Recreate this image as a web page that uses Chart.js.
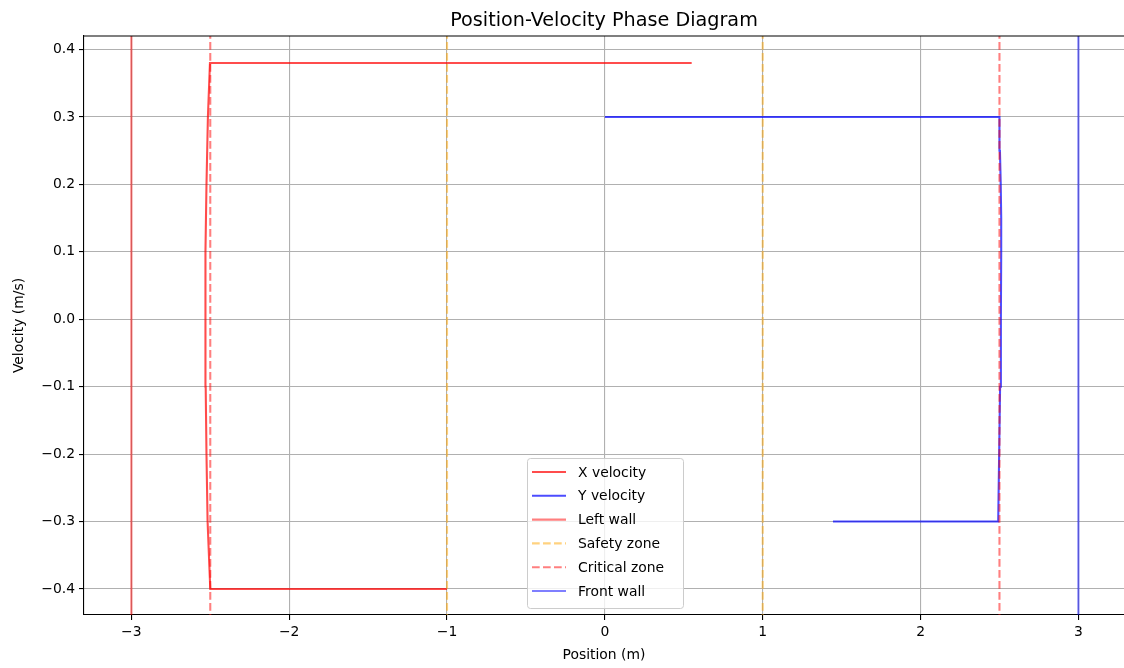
<!DOCTYPE html>
<html>
<head>
<meta charset="utf-8">
<script src="https://cdn.jsdelivr.net/npm/chart.js@4/dist/chart.umd.min.js"></script>
<style>
  html, body { margin: 0; padding: 0; background: #fff; }
  #wrap { width: 1124px; height: 668px; }
</style>
</head>
<body>
<div id="wrap"><canvas id="phase"></canvas></div>
<script>
// trajectory: [position, velocity]
const xVelPos = [-1.0, -2.5, -2.517, -2.524, -2.529, -2.532, -2.529, -2.524, -2.515, -2.502, 0.55]
const xVelVel = [-0.4, -0.4, -0.3, -0.2, -0.1, 0.0, 0.1, 0.2, 0.3, 0.38, 0.38]
const yVelPos = [1.445, 2.492, 2.498, 2.504, 2.509, 2.511, 2.511, 2.508, 2.503, 2.5, 0.0]
const yVelVel = [-0.3, -0.3, -0.2, -0.1, 0.0, 0.1, 0.15, 0.2, 0.25, 0.3, 0.3]

const leftWall = [-3]
const safetyZone = [-1, 1]
const criticalZone = [-2.5, 2.5]
const frontWall = [3]

const xTicks = [-3, -2, -1, 0, 1, 2, 3]
const yTicks = [-0.4, -0.3, -0.2, -0.1, 0.0, 0.1, 0.2, 0.3, 0.4]

const pairs = (xs, ys) => xs.map((x, i) => ({ x: x, y: ys[i] }))
// vertical lines spanning the whole axis (like axvline), separated by gaps
const vlines = xs => {
  const pts = []
  xs.forEach((x, i) => {
    if (i > 0) pts.push({ x: x, y: null })
    pts.push({ x: x, y: -5 }, { x: x, y: 5 })
  })
  return pts
}

const font = 'DejaVu Sans'
const minus = s => String(s).replace('-', '\u2212')
const dash = [7.7, 3.3]

// matplotlib-style legend inside the axes
const legendBox = {
  id: 'legendBox',
  afterDraw(chart) {
    const ctx = chart.ctx
    const x0 = 527, y0 = 458, w = 156, h = 150
    ctx.save()
    ctx.beginPath()
    ctx.roundRect(x0 + 0.5, y0 + 0.5, w, h, 3)
    ctx.fillStyle = 'rgba(255,255,255,0.8)'
    ctx.fill()
    ctx.strokeStyle = '#cccccc'
    ctx.lineWidth = 1
    ctx.stroke()
    ctx.font = '13.9px "' + font + '"'
    ctx.textBaseline = 'middle'
    chart.data.datasets.forEach((ds, i) => {
      const y = 472 + i * 23.8
      ctx.beginPath()
      ctx.setLineDash(ds.borderDash || [])
      ctx.strokeStyle = ds.borderColor
      ctx.lineWidth = ds.borderWidth
      ctx.moveTo(532, y)
      ctx.lineTo(566, y)
      ctx.stroke()
      ctx.setLineDash([])
      ctx.fillStyle = '#000'
      ctx.fillText(ds.label, 578, y + 1)
    })
    ctx.restore()
  }
}

// top spine (the right one is cut off by the picture edge)
const frame = {
  id: 'frame',
  afterDatasetsDraw(chart) {
    const a = chart.chartArea, ctx = chart.ctx
    ctx.save()
    ctx.strokeStyle = '#000'
    ctx.lineWidth = 1.1
    ctx.beginPath()
    ctx.moveTo(a.left, a.top)
    ctx.lineTo(a.right, a.top)
    ctx.stroke()
    ctx.restore()
  }
}

const line = (label, data, color, dashed) => ({
  label: label,
  data: data,
  showLine: true,
  borderColor: color,
  backgroundColor: color,
  borderWidth: 2.08,
  borderDash: dashed ? dash : undefined,
  pointRadius: 0,
  spanGaps: false,
  tension: 0
})

const datasets = [
  line('X velocity', pairs(xVelPos, xVelVel), 'rgba(255,0,0,0.7)'),
  line('Y velocity', pairs(yVelPos, yVelVel), 'rgba(0,0,255,0.7)'),
  line('Left wall', vlines(leftWall), 'rgba(255,0,0,0.5)'),
  line('Safety zone', vlines(safetyZone), 'rgba(255,165,0,0.5)', true),
  line('Critical zone', vlines(criticalZone), 'rgba(255,0,0,0.5)', true),
  line('Front wall', vlines(frontWall), 'rgba(0,0,255,0.5)')
]
datasets.forEach((ds, i) => { ds.order = datasets.length - i })

const ctx = document.getElementById('phase')
window.myPhase = new Chart(ctx, {
  type: 'scatter',
  data: { datasets: datasets },
  plugins: [frame, legendBox],
  options: {
    responsive: true,
    maintainAspectRatio: false,
    animation: false,
    layout: { padding: { left: 0, right: 0, top: 0, bottom: 0 } },
    plugins: {
      legend: { display: false },
      tooltip: { enabled: false },
      title: {
        display: true,
        text: 'Position-Velocity Phase Diagram',
        fullSize: false,
        color: '#000',
        font: { family: font, size: 19.2, weight: 'normal' },
        padding: { top: 9, bottom: 4 }
      }
    },
    scales: {
      x: {
        type: 'linear',
        min: -3.3,
        max: 3.289,
        afterBuildTicks: s => { s.ticks = xTicks.map(v => ({ value: v })) },
        afterFit: s => { s.height = 53 },
        ticks: {
          color: '#000',
          font: { family: font, size: 13.9 },
          padding: 4,
          maxRotation: 0,
          autoSkip: false,
          callback: v => minus(v)
        },
        grid: { color: '#b0b0b0', lineWidth: 1.1, tickColor: '#000', tickLength: 5 },
        border: { color: '#000', width: 1.1 },
        title: {
          display: true,
          text: 'Position (m)',
          color: '#000',
          font: { family: font, size: 13.9 },
          padding: { top: 0, bottom: 4 }
        }
      },
      y: {
        type: 'linear',
        min: -0.4386,
        max: 0.42,
        afterBuildTicks: s => { s.ticks = yTicks.map(v => ({ value: v })) },
        afterFit: s => { s.width = 84 },
        ticks: {
          color: '#000',
          font: { family: font, size: 13.9 },
          padding: 4,
          autoSkip: false,
          callback: v => minus(v.toFixed(1))
        },
        grid: { color: '#b0b0b0', lineWidth: 1.1, tickColor: '#000', tickLength: 5 },
        border: { color: '#000', width: 1.1 },
        title: {
          display: true,
          text: 'Velocity (m/s)',
          color: '#000',
          font: { family: font, size: 13.9 },
          padding: { top: 11, bottom: 0 }
        }
      }
    }
  }
})
</script>
</body>
</html>
